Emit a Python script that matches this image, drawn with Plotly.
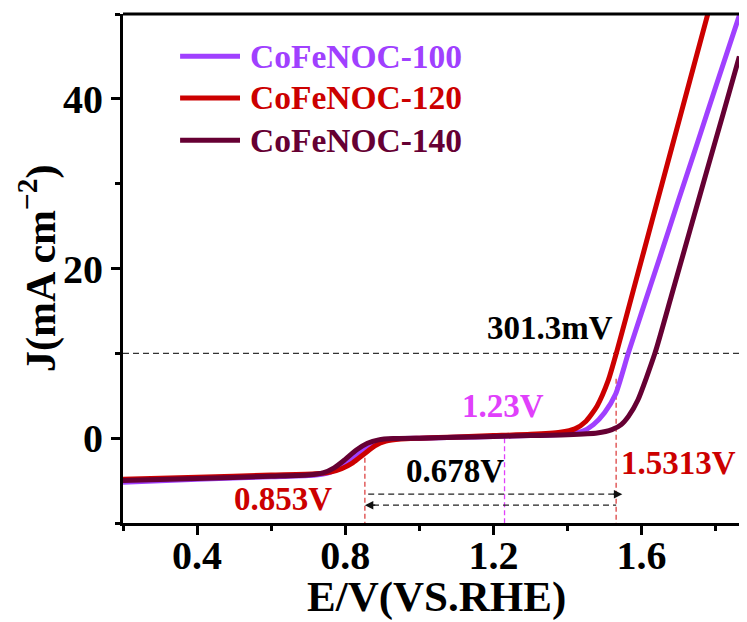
import plotly.graph_objects as go

# ---------------- data ----------------
series_names = ["CoFeNOC-100", "CoFeNOC-120", "CoFeNOC-140"]
series_colors = ["#A040FF", "#CC0000", "#660033"]

e_100 = [0.20, 0.40, 0.60, 0.72, 0.76, 0.79, 0.82, 0.85, 0.88, 0.91, 0.95, 1.00, 1.10, 1.20,
         1.30, 1.40, 1.44, 1.47, 1.50, 1.53, 1.564, 1.60, 1.65, 1.70, 1.75, 1.80, 1.866]
j_100 = [-5.2, -4.85, -4.55, -4.35, -4.0, -3.3, -2.3, -1.2, -0.5, -0.2, -0.05, 0.0, 0.1, 0.2,
         0.3, 0.5, 0.8, 1.6, 3.0, 5.2, 10.0, 14.8, 21.4, 28.1, 34.7, 41.4, 50.1]

e_120 = [0.20, 0.40, 0.60, 0.72, 0.76, 0.79, 0.82, 0.85, 0.88, 0.91, 0.95, 1.00, 1.10, 1.20,
         1.30, 1.38, 1.42, 1.45, 1.48, 1.51, 1.533, 1.58, 1.63, 1.68, 1.73, 1.78]
j_120 = [-4.85, -4.6, -4.35, -4.2, -4.0, -3.6, -2.9, -1.9, -0.9, -0.35, -0.1, 0.0, 0.15, 0.3,
         0.45, 0.7, 1.1, 2.0, 3.8, 6.8, 10.2, 17.8, 25.9, 34.0, 42.1, 50.2]

e_140 = [0.20, 0.40, 0.60, 0.70, 0.74, 0.77, 0.80, 0.83, 0.86, 0.89, 0.93, 1.00, 1.10, 1.20,
         1.30, 1.40, 1.48, 1.52, 1.545, 1.565, 1.59, 1.636, 1.68, 1.73, 1.78, 1.82, 1.864]
j_140 = [-5.0, -4.75, -4.5, -4.35, -4.1, -3.5, -2.5, -1.4, -0.6, -0.2, -0.05, 0.0, 0.1, 0.2,
         0.3, 0.4, 0.6, 1.0, 1.6, 2.6, 4.5, 10.0, 16.7, 24.4, 32.1, 38.2, 45.0]

x_ticks = [0.4, 0.8, 1.2, 1.6]
x_tick_labels = ["0.4", "0.8", "1.2", "1.6"]
y_ticks = [0, 20, 40]
y_tick_labels = ["0", "20", "40"]

x_title = "E/V(VS.RHE)"
y_title = "J(mA cm<sup>−2</sup>)"

# reference potentials / levels
j_ref = 10.0
e_onset_orr = 0.853
e_rev = 1.23
e_oer = 1.5313
label_gap = "0.678V"
label_over = "301.3mV"

FONT = "Liberation Serif, Times New Roman, serif"
X_RANGE = [0.2, 1.8846]
Y_RANGE = [-10, 50]

fig = go.Figure()
for e, j, name, col in zip([e_100, e_120, e_140], [j_100, j_120, j_140], series_names, series_colors):
    fig.add_trace(go.Scatter(x=e, y=j, mode="lines", name=name,
                             line=dict(color=col, width=5, shape="spline", smoothing=0.6),
                             showlegend=False))

shapes = []
# top frame line
shapes.append(dict(type="line", xref="paper", yref="paper", x0=0, x1=1, y0=1, y1=1,
                   line=dict(color="black", width=3)))
# horizontal J = 10 line
shapes.append(dict(type="line", xref="x", yref="y", x0=X_RANGE[0], x1=X_RANGE[1], y0=j_ref, y1=j_ref,
                   line=dict(color="#333333", width=1.3, dash="6px,4px"), layer="below"))
# vertical markers
shapes.append(dict(type="line", xref="x", yref="y", x0=e_onset_orr, x1=e_onset_orr, y0=-2.3, y1=Y_RANGE[0],
                   line=dict(color="#DD4444", width=1.3, dash="5px,3px"), layer="below"))
shapes.append(dict(type="line", xref="x", yref="y", x0=e_rev, x1=e_rev, y0=0, y1=Y_RANGE[0],
                   line=dict(color="#E040FB", width=1.3, dash="5px,3px"), layer="below"))
shapes.append(dict(type="line", xref="x", yref="y", x0=e_oer, x1=e_oer, y0=7.0, y1=Y_RANGE[0],
                   line=dict(color="#DD4444", width=1.3, dash="5px,3px"), layer="below"))
# dashed double arrows bodies
shapes.append(dict(type="line", xref="x", yref="y", x0=0.862, x1=1.53, y0=-6.6, y1=-6.6,
                   line=dict(color="#222222", width=1.3, dash="6px,4px")))
shapes.append(dict(type="line", xref="x", yref="y", x0=0.875, x1=e_oer, y0=-7.9, y1=-7.9,
                   line=dict(color="#222222", width=1.3, dash="6px,4px")))

# manual legend
leg_y = [0.917, 0.835, 0.752]
for name, col, yy in zip(series_names, series_colors, leg_y):
    shapes.append(dict(type="line", xref="paper", yref="paper", x0=0.0915, x1=0.1875, y0=yy, y1=yy,
                       line=dict(color=col, width=5)))

annotations = []
for name, col, yy in zip(series_names, series_colors, leg_y):
    annotations.append(dict(xref="paper", yref="paper", x=0.2, y=yy, text="<b>%s</b>" % name,
                            showarrow=False, xanchor="left", yanchor="middle",
                            font=dict(family=FONT, size=33.5, color=col)))

# arrow heads (short solid segments with heads)
annotations.append(dict(xref="x", yref="y", axref="x", ayref="y", x=1.548, y=-6.6, ax=1.52, ay=-6.6,
                        text="", showarrow=True, arrowhead=2, arrowsize=1.3, arrowwidth=1.3,
                        arrowcolor="#111111", standoff=0, startstandoff=0))
annotations.append(dict(xref="x", yref="y", axref="x", ayref="y", x=0.853, y=-7.9, ax=0.885, ay=-7.9,
                        text="", showarrow=True, arrowhead=2, arrowsize=1.3, arrowwidth=1.3,
                        arrowcolor="#111111", standoff=0, startstandoff=0))

def txt(x, y, s, col):
    return dict(xref="x", yref="y", x=x, y=y, text="<b>%s</b>" % s, showarrow=False,
                xanchor="center", yanchor="middle", font=dict(family=FONT, size=33, color=col))

annotations.append(txt(1.353, 13.0, label_over, "black"))
annotations.append(txt(1.227, 3.8, "%.2fV" % e_rev, "#E040FB"))
annotations.append(txt(1.097, -3.9, label_gap, "black"))
annotations.append(txt(0.631, -7.2, "%.3fV" % e_onset_orr, "#CC0000"))
annotations.append(txt(1.701, -2.95, "%.4fV" % e_oer, "#CC0000"))

# axis titles
annotations.append(dict(xref="paper", yref="paper", x=0.503, y=-0.145, text="<b>%s</b>" % x_title,
                        showarrow=False, xanchor="center", yanchor="middle",
                        font=dict(family=FONT, size=43, color="black")))
annotations.append(dict(xref="paper", yref="paper", x=-0.137, y=0.50, text="<b>%s</b>" % y_title,
                        showarrow=False, xanchor="center", yanchor="middle", textangle=-90,
                        font=dict(family=FONT, size=42, color="black")))

# page body has an 8px margin: figure is sized/offset so the plot area lands where the reference has it
fig.update_layout(
    width=739, height=614,
    margin=dict(l=115, r=0, t=6, b=99, autoexpand=False),
    paper_bgcolor="white", plot_bgcolor="white",
    font=dict(family=FONT, color="black"),
    shapes=shapes, annotations=annotations,
    showlegend=False,
)
fig.update_xaxes(range=X_RANGE, showgrid=False, zeroline=False, automargin=False,
                 showline=True, linecolor="black", linewidth=3,
                 ticks="outside", ticklen=9, tickwidth=3, tickcolor="black",
                 tickvals=x_ticks, ticktext=["<b>%s</b>" % t for t in x_tick_labels],
                 tickfont=dict(family=FONT, size=40, color="black"),
                 ticklabelstandoff=-14,
                 minor=dict(tickvals=[0.2, 0.6, 1.0, 1.4, 1.8], ticklen=5, tickwidth=3, tickcolor="black", ticks="outside"))
fig.update_yaxes(range=Y_RANGE, showgrid=False, zeroline=False, automargin=False,
                 showline=True, linecolor="black", linewidth=3,
                 ticks="outside", ticklen=9, tickwidth=3, tickcolor="black",
                 tickvals=y_ticks, ticktext=["<b>%s</b>" % t for t in y_tick_labels],
                 tickfont=dict(family=FONT, size=40, color="black"),
                 minor=dict(tickvals=[-10, 10, 30, 50], ticklen=5, tickwidth=3, tickcolor="black", ticks="outside"))

fig.write_html("out.html")
